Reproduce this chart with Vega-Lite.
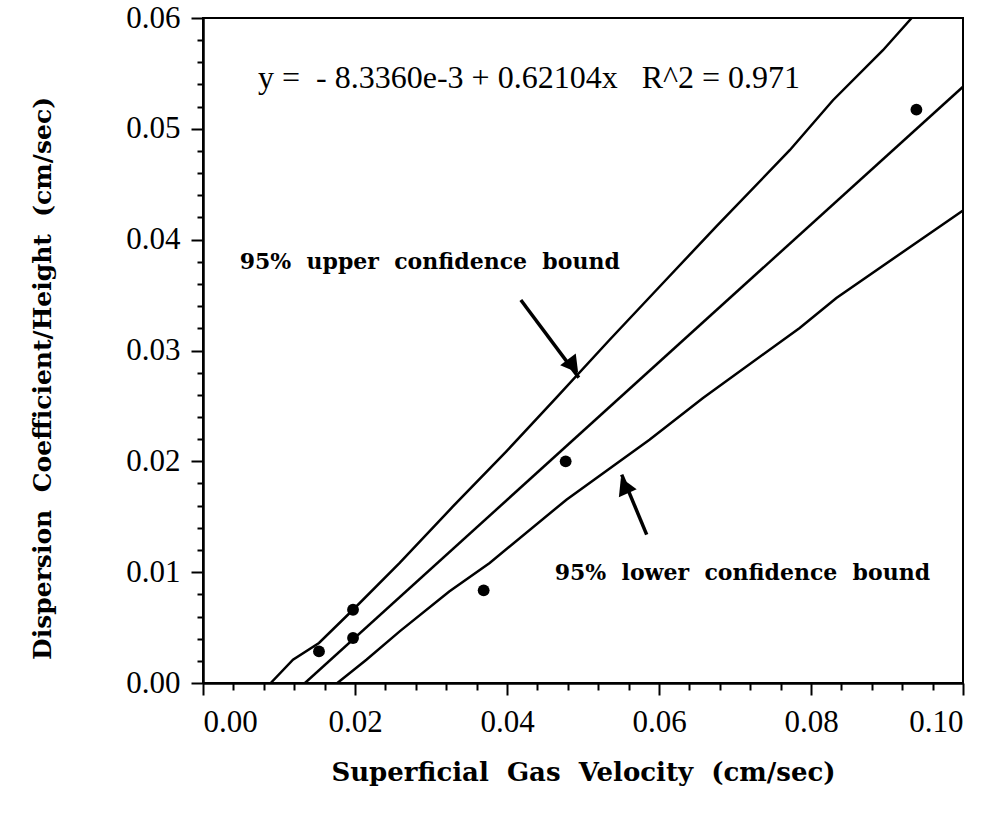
{
  "$schema": "https://vega.github.io/schema/vega-lite/v6.json",
  "width": 760,
  "height": 665,
  "autosize": "none",
  "padding": {"left": 203, "top": 18, "right": 33, "bottom": 137},
  "background": "white",
  "config": {
    "view": {"stroke": "black", "strokeWidth": 2},
    "axis": {"grid": false, "domainColor": "black", "tickColor": "black", "labelColor": "black", "titleColor": "black"}
  },
  "datasets": {
    "points": [
      {"v": 0.01526, "d": 0.00285},
      {"v": 0.01974, "d": 0.00661},
      {"v": 0.01974, "d": 0.00406},
      {"v": 0.03693, "d": 0.00836},
      {"v": 0.04772, "d": 0.0200},
      {"v": 0.09387, "d": 0.05173}
    ],
    "lines": [
      {"series": "upper", "v": 0.00891, "d": 0.0},
      {"series": "upper", "v": 0.01184, "d": 0.0021},
      {"series": "upper", "v": 0.01526, "d": 0.00361},
      {"series": "upper", "v": 0.01974, "d": 0.00661},
      {"series": "upper", "v": 0.02588, "d": 0.01083},
      {"series": "upper", "v": 0.03289, "d": 0.01593},
      {"series": "upper", "v": 0.03992, "d": 0.0209},
      {"series": "upper", "v": 0.0465, "d": 0.02574},
      {"series": "upper", "v": 0.05351, "d": 0.03097},
      {"series": "upper", "v": 0.06053, "d": 0.03609},
      {"series": "upper", "v": 0.06755, "d": 0.0412},
      {"series": "upper", "v": 0.0772, "d": 0.04807},
      {"series": "upper", "v": 0.08289, "d": 0.05258},
      {"series": "upper", "v": 0.08947, "d": 0.05709},
      {"series": "upper", "v": 0.09325, "d": 0.06},
      {"series": "fit", "v": 0.01342, "d": 0.0},
      {"series": "fit", "v": 0.1, "d": 0.0538},
      {"series": "lower", "v": 0.01768, "d": 0.0},
      {"series": "lower", "v": 0.0215, "d": 0.0021},
      {"series": "lower", "v": 0.02588, "d": 0.00466},
      {"series": "lower", "v": 0.0324, "d": 0.00826},
      {"series": "lower", "v": 0.03772, "d": 0.01083},
      {"series": "lower", "v": 0.04782, "d": 0.01654},
      {"series": "lower", "v": 0.05875, "d": 0.02195},
      {"series": "lower", "v": 0.06579, "d": 0.02572},
      {"series": "lower", "v": 0.07851, "d": 0.03203},
      {"series": "lower", "v": 0.08334, "d": 0.03474},
      {"series": "lower", "v": 0.1, "d": 0.04264}
    ],
    "arrows": [
      {"arrow": "upper", "v": 0.04182, "d": 0.03455, "v2": 0.04945, "d2": 0.02755, "hv": 0.04869, "hd": 0.02859},
      {"arrow": "lower", "v": 0.05838, "d": 0.01339, "v2": 0.05509, "d2": 0.0188, "hv": 0.05544, "hd": 0.01782}
    ],
    "notes": [
      {"kind": "eq", "v": 0.00724, "d": 0.05462, "label": "y =\u00a0 - 8.3360e-3 + 0.62104x\u00a0\u00a0 R^2 = 0.971"},
      {"kind": "bound", "v": 0.00483, "d": 0.038, "label": "95%\u00a0 upper\u00a0 confidence\u00a0 bound"},
      {"kind": "bound", "v": 0.04628, "d": 0.00995, "label": "95%\u00a0 lower\u00a0 confidence\u00a0 bound"}
    ]
  },
  "resolve": {"axis": {"x": "independent", "y": "independent"}},
  "layer": [
    {
      "data": {"name": "lines"},
      "mark": {"type": "line", "color": "black", "strokeWidth": 2.5, "clip": true},
      "encoding": {
        "x": {
          "field": "v", "type": "quantitative",
          "scale": {"domain": [0, 0.1], "nice": false, "zero": false},
          "axis": {
            "orient": "bottom", "values": [0, 0.02, 0.04, 0.06, 0.08, 0.1], "format": ".2f",
            "tickSize": 12, "tickWidth": 2, "domainWidth": 2.5,
            "labelFont": "Liberation Serif", "labelFontSize": 31, "labelPadding": 12,
            "title": "Superficial\u00a0 Gas\u00a0 Velocity\u00a0 (cm/sec)",
            "titleFont": "DejaVu Serif", "titleFontWeight": "bold", "titleFontSize": 26, "titlePadding": 22
          }
        },
        "y": {
          "field": "d", "type": "quantitative",
          "scale": {"domain": [0, 0.06], "nice": false, "zero": false},
          "axis": {
            "orient": "left", "values": [0, 0.01, 0.02, 0.03, 0.04, 0.05, 0.06], "format": ".2f",
            "tickSize": 12, "tickWidth": 2, "domainWidth": 2.5,
            "labelFont": "Liberation Serif", "labelFontSize": 31, "labelPadding": 11,
            "title": "Dispersion\u00a0 Coefficient/Height\u00a0 (cm/sec)",
            "titleFont": "DejaVu Serif", "titleFontWeight": "bold", "titleFontSize": 25, "titlePadding": 70, "titleY": 360
          }
        },
        "detail": {"field": "series", "type": "nominal"}
      }
    },
    {
      "data": {"name": "points"},
      "mark": {"type": "point", "filled": true, "color": "black", "opacity": 1, "size": 140},
      "encoding": {
        "x": {
          "field": "v", "type": "quantitative",
          "axis": {
            "orient": "bottom", "values": [0.004, 0.008, 0.012, 0.016, 0.024, 0.028, 0.032, 0.036, 0.044, 0.048, 0.052, 0.056, 0.064, 0.068, 0.072, 0.076, 0.084, 0.088, 0.092, 0.096],
            "labels": false, "domain": false, "tickSize": 7, "tickWidth": 2, "title": null
          }
        },
        "y": {
          "field": "d", "type": "quantitative",
          "axis": {
            "orient": "left", "values": [0.002, 0.004, 0.006, 0.008, 0.012, 0.014, 0.016, 0.018, 0.022, 0.024, 0.026, 0.028, 0.032, 0.034, 0.036, 0.038, 0.042, 0.044, 0.046, 0.048, 0.052, 0.054, 0.056, 0.058],
            "labels": false, "domain": false, "tickSize": 6, "tickWidth": 2, "title": null
          }
        }
      }
    },
    {
      "data": {"name": "arrows"},
      "mark": {"type": "rule", "color": "black", "strokeWidth": 3.5},
      "encoding": {
        "x": {"field": "v", "type": "quantitative", "axis": null},
        "y": {"field": "d", "type": "quantitative", "axis": null},
        "x2": {"field": "v2"},
        "y2": {"field": "d2"}
      }
    },
    {
      "data": {"name": "arrows"},
      "transform": [{"filter": "datum.arrow == 'upper'"}],
      "mark": {"type": "point", "shape": "triangle-up", "filled": true, "color": "black", "opacity": 1, "size": 380, "angle": 143},
      "encoding": {
        "x": {"field": "hv", "type": "quantitative", "axis": null},
        "y": {"field": "hd", "type": "quantitative", "axis": null}
      }
    },
    {
      "data": {"name": "arrows"},
      "transform": [{"filter": "datum.arrow == 'lower'"}],
      "mark": {"type": "point", "shape": "triangle-up", "filled": true, "color": "black", "opacity": 1, "size": 380, "angle": 336},
      "encoding": {
        "x": {"field": "hv", "type": "quantitative", "axis": null},
        "y": {"field": "hd", "type": "quantitative", "axis": null}
      }
    },
    {
      "data": {"name": "notes"},
      "transform": [{"filter": "datum.kind == 'eq'"}],
      "mark": {"type": "text", "align": "left", "baseline": "middle", "font": "Liberation Serif", "fontSize": 32, "color": "black"},
      "encoding": {
        "x": {"field": "v", "type": "quantitative", "axis": null},
        "y": {"field": "d", "type": "quantitative", "axis": null},
        "text": {"field": "label"}
      }
    },
    {
      "data": {"name": "notes"},
      "transform": [{"filter": "datum.kind == 'bound'"}],
      "mark": {"type": "text", "align": "left", "baseline": "middle", "font": "DejaVu Serif", "fontWeight": "bold", "fontSize": 22, "color": "black"},
      "encoding": {
        "x": {"field": "v", "type": "quantitative", "axis": null},
        "y": {"field": "d", "type": "quantitative", "axis": null},
        "text": {"field": "label"}
      }
    }
  ]
}
